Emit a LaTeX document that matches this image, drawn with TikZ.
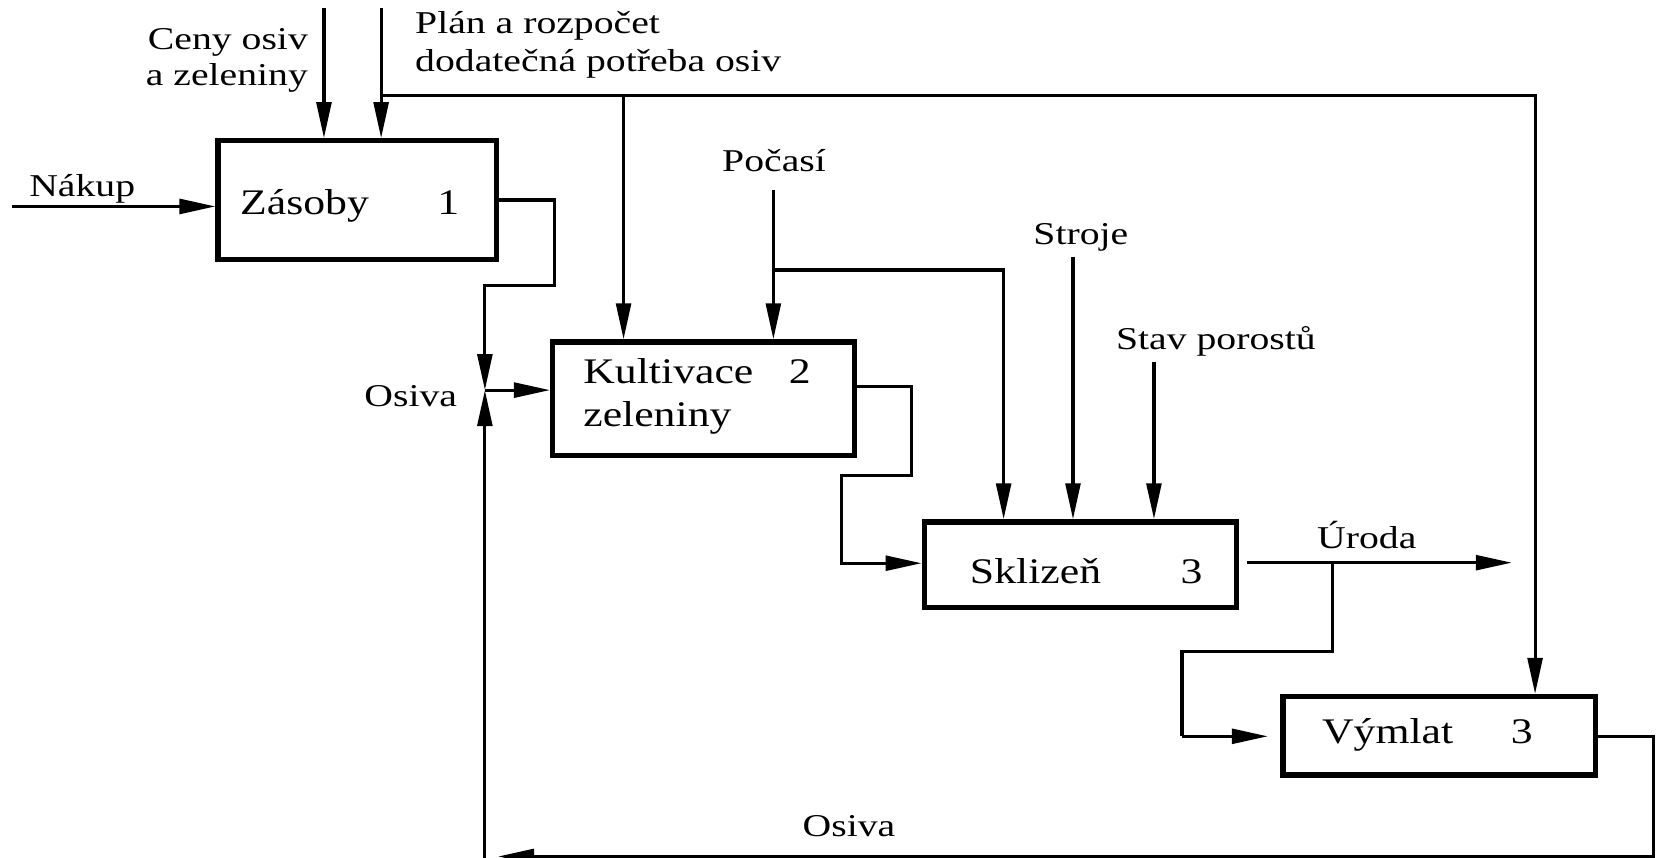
\documentclass[tikz,border=0pt]{standalone}
\usepackage{fontspec}
\newfontfamily\labfont{Liberation Serif}[FakeStretch=1.25]
\newfontfamily\boxfont{Liberation Serif}[FakeStretch=1.215]
\usetikzlibrary{arrows.meta}
\begin{document}
\begin{tikzpicture}[x=1pt,y=-1pt,
  conn/.style={line width=3pt},
  arr/.style={conn,-{Triangle[length=34pt,width=14pt]}},
  boxnode/.style={draw,line width=5pt,rectangle,inner sep=0pt},
  lab/.style={inner sep=0pt,font=\labfont\fontsize{30}{34}\selectfont},
  btxt/.style={inner sep=0pt,font=\boxfont\fontsize{34}{38}\selectfont},
]
\useasboundingbox (0,0) rectangle (1568,810);

% boxes
\node[boxnode,minimum width=263pt,minimum height=112pt] (zas) at (337.5,189) {};
\node[boxnode,minimum width=285pt,minimum height=107pt] (kul) at (664.5,376.5) {};
\node[boxnode,minimum width=295pt,minimum height=81pt] (skl) at (1020.5,533.5) {};
\node[boxnode,minimum width=295pt,minimum height=74pt] (vym) at (1359.5,695) {};

% box texts
\node[btxt,anchor=base west] (tZas) at (226.7,202.5) {Zásoby};
\node[btxt,anchor=base west] (tZasN) at (413,202.5) {1};
\node[btxt,anchor=base west] (tKul) at (550.8,362) {Kultivace};
\node[btxt,anchor=base west] (tKulN) at (745,362) {2};
\node[btxt,anchor=base west] (tKul2) at (550.8,403) {zeleniny};
\node[btxt,anchor=base west] (tSkl) at (916,551.6) {Sklizeň};
\node[btxt,anchor=base west] (tSklN) at (1115,551.6) {3};
\node[btxt,anchor=base west] (tVym) at (1248.6,702) {Výmlat};
\node[btxt,anchor=base west] (tVymN) at (1427,702) {3};

% labels
\node[lab,anchor=base east] (lCeny1) at (291,46.6) {Ceny osiv};
\node[lab,anchor=base east] (lCeny2) at (291,80.3) {a zeleniny};
\node[lab,anchor=base west] (lPlan1) at (392,31.5) {Plán a rozpočet};
\node[lab,anchor=base west] (lPlan2) at (392,67.7) {dodatečná potřeba osiv};
\node[lab,anchor=base west] (lNak) at (27.5,185.8) {Nákup};
\node[lab,anchor=base west] (lPoc) at (682,162) {Počasí};
\node[lab,anchor=base west] (lStr) at (976,231.4) {Stroje};
\node[lab,anchor=base west] (lStav) at (1054,330) {Stav porostů};
\node[lab,anchor=base west] (lOs1) at (344,384) {Osiva};
\node[lab,anchor=base west] (lUr) at (1244,518) {Úroda};
\node[lab,anchor=base west] (lOs2) at (758,790) {Osiva};

% coordinates
\coordinate (nakS) at (11,195);
\coordinate (cenS) at (306,8);
\coordinate (planS) at (360,8);
\coordinate (planJ) at (360,90.5);
\coordinate (planK) at (589,90.5);
\coordinate (planE) at (1450,90.5);
\coordinate (pocS) at (730.5,179.5);
\coordinate (pocJ) at (730.5,255);
\coordinate (pocE) at (948,255);
\coordinate (strS) at (1013.5,242.5);
\coordinate (stavS) at (1090,341.5);
\coordinate (J) at (458,368.5);
\coordinate (zasA) at (524,189);
\coordinate (zasB) at (524,270);
\coordinate (zasC) at (458,270);
\coordinate (retB) at (458,830);
\coordinate (kulA) at (861,365);
\coordinate (kulB) at (861,449.5);
\coordinate (kulC) at (795,449.5);
\coordinate (kulD) at (795,532);
\coordinate (sklA) at (1178,531.5);
\coordinate (sklJ) at (1258.5,531.5);
\coordinate (sklT) at (1428,531.5);
\coordinate (sklB) at (1258.5,615);
\coordinate (sklC) at (1116.5,615);
\coordinate (sklD) at (1116.5,695.5);
\coordinate (sklE) at (1197.5,695.5);
\coordinate (vymA) at (1562,696);
\coordinate (vymB) at (1562,809);
\coordinate (vymT) at (470.5,809);

% connectors
\draw[arr] (nakS) -- (nakS -| zas.west);
\draw[arr] (cenS) -- (cenS |- zas.north);
\draw[arr] (planS) -- (planS |- zas.north);
\draw[arr] (planJ) -- (planE) -- (planE |- vym.north);
\draw[arr] (planK) -- (planK |- kul.north);
\draw[arr] (pocS) -- (pocS |- kul.north);
\draw[arr] (pocJ) -- (pocE) -- (pocE |- skl.north);
\draw[arr] (strS) -- (strS |- skl.north);
\draw[arr] (stavS) -- (stavS |- skl.north);
\draw[arr] (zas.east) -- (zasA) -- (zasB) -- (zasC) -- (J);
\draw[arr] (retB) -- (J);
\draw[arr] (J) -- (J -| kul.west);
\draw[arr] (kul.east |- kulA) -- (kulA) -- (kulB) -- (kulC) -- (kulD) -- (kulD -| skl.west);
\draw[arr] (sklA) -- (sklT);
\draw[conn] (sklJ) -- (sklB) -- (sklC) -- (sklD);
\draw[arr] (sklD) -- (sklE);
\draw[arr] (vym.east |- vymA) -- (vymA) -- (vymB) -- (vymT);
\end{tikzpicture}
\end{document}
